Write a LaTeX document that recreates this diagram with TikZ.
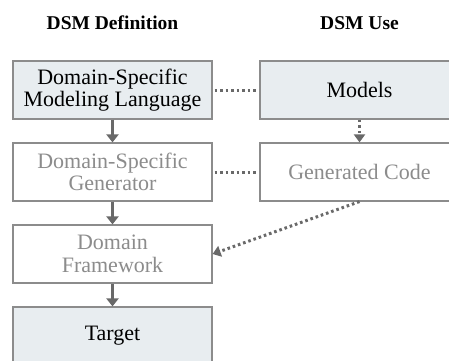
\documentclass[tikz,border=0pt]{standalone}
\usepackage{fontspec}
\setmainfont{Liberation Serif}
\usetikzlibrary{shapes, arrows.meta, positioning}

\definecolor{boxfill}{RGB}{232,237,240}
\definecolor{boxline}{RGB}{140,140,140}
\definecolor{greytext}{RGB}{140,140,140}
\definecolor{arrowgrey}{RGB}{105,105,105}

\begin{document}
\begin{tikzpicture}[node distance=82pt, font=\fontsize{22}{22.5}\selectfont]
    \tikzstyle{modelbox} = [rectangle, draw=boxline, line width=1.2pt, fill=boxfill, text centered, align=center, minimum width=199pt, minimum height=58pt]
    \tikzstyle{genbox} = [rectangle, draw=boxline, line width=1.2pt, fill=white, text=greytext, text centered, align=center, minimum width=199pt, minimum height=58pt]
    \tikzstyle{heading} = [font=\fontsize{19.5}{22}\selectfont\bfseries]
    \tikzstyle{arrow} = [draw=arrowgrey, line width=3.2pt, -{Triangle[width=12pt, length=8pt]}]
    \tikzstyle{link} = [draw=arrowgrey, line width=3pt, dash pattern=on 2.6pt off 2.9pt, shorten <=2pt, shorten >=2pt]
    \tikzstyle{dotarrow} = [draw=arrowgrey, line width=3pt, dash pattern=on 2.6pt off 2.9pt, -{Triangle[width=11pt, length=8pt]}]

    \useasboundingbox (0,0) rectangle (449pt,-360pt);

    \node (dsml) [modelbox] at (112.5pt,-90pt) {Domain-Specific\\Modeling Language};
    \node (generator) [genbox, below of=dsml] {Domain-Specific\\Generator};
    \node (framework) [genbox, below of=generator] {Domain\\Framework};
    \node (target) [modelbox, below of=framework] {Target};
    \node (models) [modelbox, right of=dsml, xshift=165pt] {Models};
    \node (code) [genbox, below of=models] {Generated Code};

    \node (defhead) [heading, above of=dsml, yshift=-15pt] {DSM Definition};
    \node (usehead) [heading, above of=models, yshift=-15pt] {DSM Use};

    % Arrows
    \draw [arrow] (dsml) -- (generator);
    \draw [arrow] (generator) -- (framework);
    \draw [arrow] (framework) -- (target);
    \draw [link] (dsml) -- (models);
    \draw [link] (generator) -- (code);
    \draw [dotarrow] (models) -- (code);
    \draw [dotarrow] (code.south) -- (framework.east);
\end{tikzpicture}
\end{document}
